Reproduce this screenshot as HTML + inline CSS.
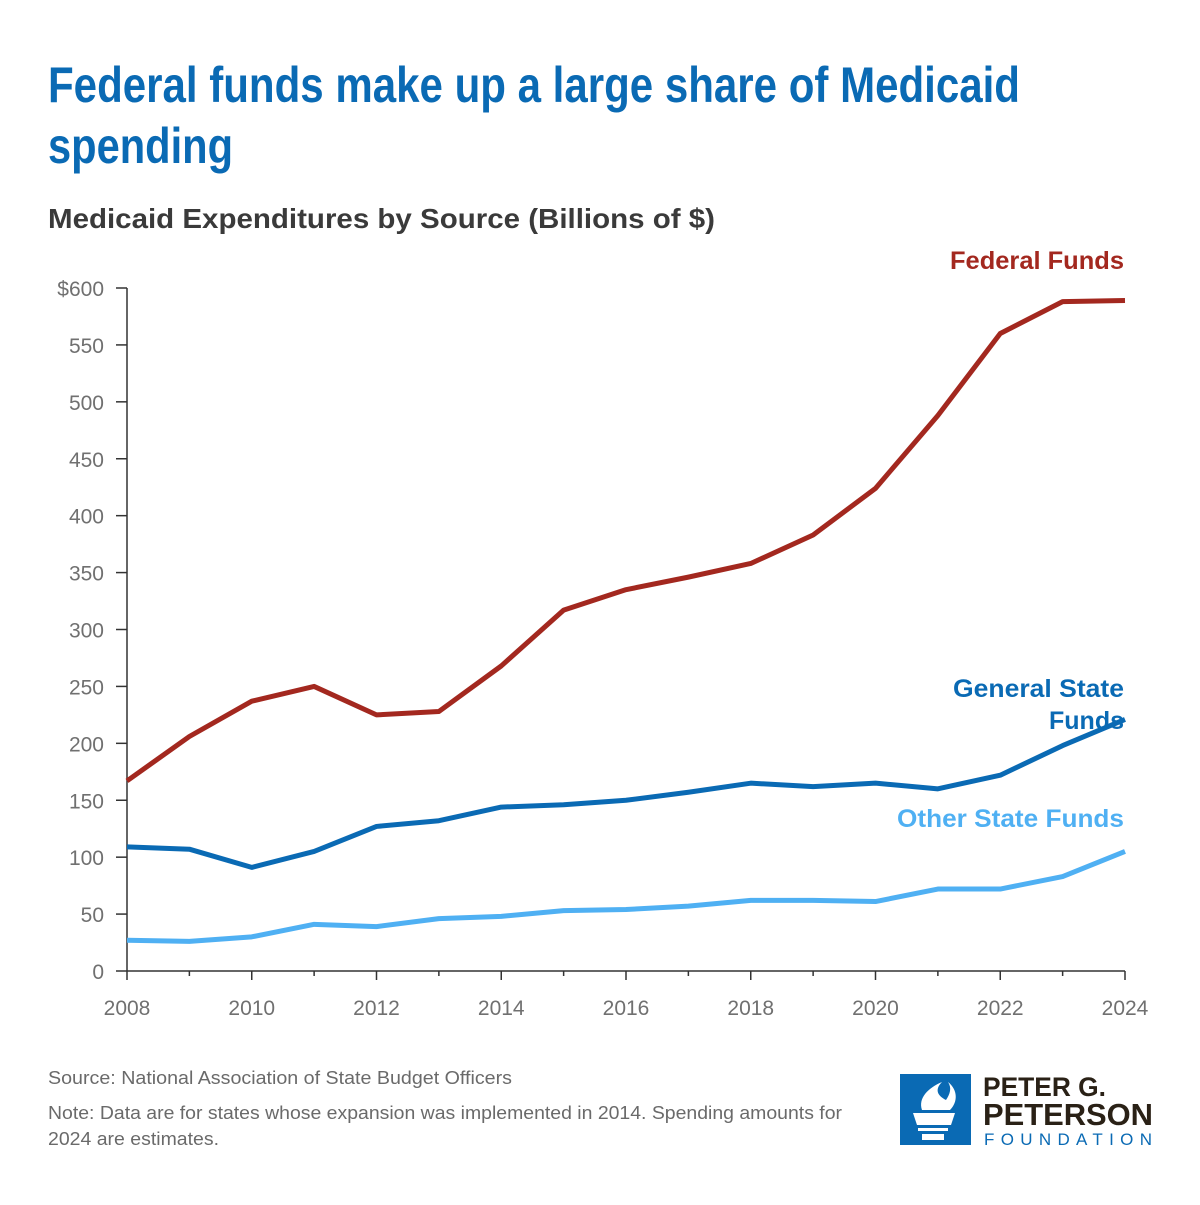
<!DOCTYPE html>
<html><head><meta charset="utf-8"><style>
body{margin:0;background:#fff;width:1200px;height:1200px;overflow:hidden;font-family:"Liberation Sans",sans-serif}
</style></head><body>
<svg width="1200" height="1200" xmlns="http://www.w3.org/2000/svg">
<text x="48" y="102" font-size="50" fill="#0a6ab4" font-weight="bold" textLength="972" lengthAdjust="spacingAndGlyphs">Federal funds make up a large share of Medicaid</text>
<text x="48" y="163" font-size="50" fill="#0a6ab4" font-weight="bold" textLength="185" lengthAdjust="spacingAndGlyphs">spending</text>
<text x="48" y="228" font-size="28" fill="#3a3a3a" font-weight="bold" textLength="667" lengthAdjust="spacingAndGlyphs">Medicaid Expenditures by Source (Billions of $)</text>
<g id="axes"></g>
<g id="lines"></g>
<text x="1124" y="269" font-size="25" fill="#a3281f" font-weight="bold" text-anchor="end" textLength="174" lengthAdjust="spacingAndGlyphs">Federal Funds</text>
<text x="1124" y="697" font-size="25" fill="#0a6ab4" font-weight="bold" text-anchor="end" textLength="171" lengthAdjust="spacingAndGlyphs">General State</text>
<text x="1124" y="729" font-size="25" fill="#0a6ab4" font-weight="bold" text-anchor="end">Funds</text>
<text x="1124" y="827" font-size="25" fill="#4fb0f3" font-weight="bold" text-anchor="end" textLength="227" lengthAdjust="spacingAndGlyphs">Other State Funds</text>
<text x="48" y="1084" font-size="18" fill="#6a6a6a" textLength="464" lengthAdjust="spacingAndGlyphs">Source: National Association of State Budget Officers</text>
<text x="48" y="1119" font-size="18" fill="#6a6a6a" textLength="794" lengthAdjust="spacingAndGlyphs">Note: Data are for states whose expansion was implemented in 2014. Spending amounts for</text>
<text x="48" y="1145" font-size="18" fill="#6a6a6a" textLength="171" lengthAdjust="spacingAndGlyphs">2024 are estimates.</text>
<g>
<rect x="900" y="1074" width="71" height="71" fill="#0a6ab4"/>
<path d="M913 1113 h42 l-4 12 h-34 z M918 1128 h30 v3 h-30 z M922 1134 h22 v6 h-22 z" fill="#fff"/>
<path d="M922 1110 c-4 -12 6 -22 20 -28 c-8 8 -4 14 4 18 c4 -6 6 -12 2 -18 c10 8 10 20 2 28 z" fill="#fff"/>
<text x="983" y="1096" font-size="27" font-weight="bold" fill="#2a2116" textLength="123" lengthAdjust="spacingAndGlyphs">PETER G.</text>
<text x="983" y="1125" font-size="31" font-weight="bold" fill="#2a2116" textLength="170" lengthAdjust="spacingAndGlyphs">PETERSON</text>
<text x="984" y="1145" font-size="17" fill="#0a6ab4" textLength="168" lengthAdjust="spacing">FOUNDATION</text>
</g>
</svg>
<script>
const years=[2008,2009,2010,2011,2012,2013,2014,2015,2016,2017,2018,2019,2020,2021,2022,2023,2024];
const federal=[167,206,237,250,225,228,268,317,335,346,358,383,424,488,560,588,589];
const generalState=[109,107,91,105,127,132,144,146,150,157,165,162,165,160,172,198,221];
const otherState=[27,26,30,41,39,46,48,53,54,57,62,62,61,72,72,83,105];
const yTicks=[0,50,100,150,200,250,300,350,400,450,500,550,600];
const yTickLabels=["0","50","100","150","200","250","300","350","400","450","500","550","$600"];
const xTicks=[2008,2010,2012,2014,2016,2018,2020,2022,2024];
const NS="http://www.w3.org/2000/svg";
const xS=v=>127+(v-2008)*(1125-127)/16;
const yS=v=>971-v*(971-288)/600;
const axes=document.getElementById('axes'),lines=document.getElementById('lines');
function mk(t,a,p){const e=document.createElementNS(NS,t);for(const k in a)e.setAttribute(k,a[k]);p.appendChild(e);return e;}
yTicks.forEach((v,i)=>{
 const t=mk('line',{x1:116,x2:127,y1:yS(v),y2:yS(v),stroke:'#333','stroke-width':1.5},axes);
 
 
 const l=mk('text',{x:104,y:yS(v)+8,'font-size':21,fill:'#707070','text-anchor':'end'},axes);
 l.textContent=yTickLabels[i];
 
 
});
years.forEach(y=>{
 const t=mk('line',{x1:xS(y),x2:xS(y),y1:971,y2:(xTicks.includes(y)?980:976),stroke:'#333','stroke-width':1.5},axes);
 
 
});
xTicks.forEach(y=>{
 const l=mk('text',{x:xS(y),y:1015,'font-size':21,fill:'#707070','text-anchor':'middle'},axes);
 l.textContent=y;
 
 
});
const ya=mk('line',{x1:127,x2:127,y1:288,y2:971,stroke:'#333','stroke-width':1.5},axes);


const xa=mk('line',{x1:127,x2:1125,y1:971,y2:971,stroke:'#333','stroke-width':1.5},axes);


function series(vals,color,name){
 const p=mk('polyline',{points:vals.map((v,i)=>xS(years[i])+','+yS(v)).join(' '),fill:'none',stroke:color,'stroke-width':5,'stroke-linejoin':'round'},lines);
 
 
}
series(otherState,'#4fb0f3','other-state-funds-line');
series(generalState,'#0a6ab4','general-state-funds-line');
series(federal,'#a3281f','federal-funds-line');
</script>
</body></html>
